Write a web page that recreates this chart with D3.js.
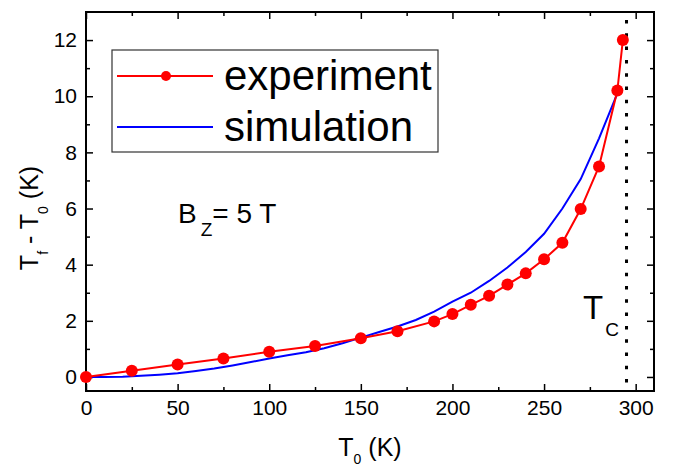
<!DOCTYPE html>
<html>
<head>
<meta charset="utf-8">
<script src="https://cdn.jsdelivr.net/npm/d3@7"></script>
<style>
  body { margin: 0; background: #fff; }
  svg { display: block; font-family: "Liberation Sans", Arial, sans-serif; }
</style>
</head>
<body>
<svg id="chart" width="684" height="468"></svg>
<script>
// experiment: T0 (K) vs Tf - T0 (K)
const expT0 = [0, 25, 50, 75, 100, 125, 150, 170, 190, 200, 210, 220, 230, 240, 250, 260, 270, 280, 290, 293];
const expDT = [0, 0.22, 0.44, 0.66, 0.9, 1.1, 1.38, 1.63, 1.98, 2.24, 2.57, 2.89, 3.29, 3.69, 4.19, 4.78, 5.98, 7.5, 10.2, 12.0];

// simulation curve
const simT0 = [0, 10, 20, 30, 40, 50, 60, 70, 80, 90, 100, 110, 120, 130, 140, 150, 160, 170, 180, 190, 200, 210, 220, 230, 240, 250, 260, 270, 280, 290];
const simDT = [0, 0, 0.01, 0.04, 0.08, 0.13, 0.21, 0.3, 0.41, 0.53, 0.66, 0.77, 0.88, 1.02, 1.2, 1.4, 1.6, 1.8, 2.03, 2.33, 2.68, 3.0, 3.42, 3.9, 4.45, 5.1, 6.0, 7.05, 8.5, 10.1];

const xMajor = [0, 50, 100, 150, 200, 250, 300];
const xMinor = [25, 75, 125, 175, 225, 275];
const yMajor = [0, 2, 4, 6, 8, 10, 12];
const yMinor = [1, 3, 5, 7, 9, 11];
const Tc = 295;

const margin = { left: 86, top: 12, right: 30, bottom: 77 };
const width = 684, height = 468;

const svg = d3.select('#chart');

const x = d3.scaleLinear().domain([0, 310]).range([margin.left, width - margin.right]);
const y = d3.scaleLinear().domain([-0.5, 13]).range([height - margin.bottom, margin.top]);

const x0 = margin.left, x1 = width - margin.right;
const y0 = height - margin.bottom, y1 = margin.top;

// Axes (ticks point inward)
function styleAxis(g) {
    g.select('.domain').remove();
    g.selectAll('line').attr('stroke', '#000').attr('stroke-width', 1.5);
    g.selectAll('text').attr('fill', '#000').attr('font-size', '21px').attr('font-family', '"Liberation Sans", Arial, sans-serif');
}

svg.append('g').attr('transform', `translate(0,${y0})`)
    .call(d3.axisBottom(x).tickValues(xMajor).tickSize(-7).tickPadding(9).tickFormat(d3.format('d')))
    .call(styleAxis);
svg.append('g').attr('transform', `translate(0,${y0})`)
    .call(d3.axisBottom(x).tickValues(xMinor).tickSize(-4).tickFormat(''))
    .call(styleAxis);
svg.append('g').attr('transform', `translate(0,${y1})`)
    .call(d3.axisTop(x).tickValues(xMajor).tickSize(-7).tickFormat(''))
    .call(styleAxis);
svg.append('g').attr('transform', `translate(0,${y1})`)
    .call(d3.axisTop(x).tickValues(xMinor).tickSize(-4).tickFormat(''))
    .call(styleAxis);

svg.append('g').attr('transform', `translate(${x0},0)`)
    .call(d3.axisLeft(y).tickValues(yMajor).tickSize(-7).tickPadding(9).tickFormat(d3.format('d')))
    .call(styleAxis);
svg.append('g').attr('transform', `translate(${x0},0)`)
    .call(d3.axisLeft(y).tickValues(yMinor).tickSize(-4).tickFormat(''))
    .call(styleAxis);
svg.append('g').attr('transform', `translate(${x1},0)`)
    .call(d3.axisRight(y).tickValues(yMajor).tickSize(-7).tickFormat(''))
    .call(styleAxis);
svg.append('g').attr('transform', `translate(${x1},0)`)
    .call(d3.axisRight(y).tickValues(yMinor).tickSize(-4).tickFormat(''))
    .call(styleAxis);

// Frame
svg.append('rect')
    .attr('x', x0).attr('y', y1)
    .attr('width', x1 - x0).attr('height', y0 - y1)
    .attr('fill', 'none').attr('stroke', '#000').attr('stroke-width', 2);

// Tc dotted line
svg.append('line')
    .attr('x1', x(Tc)).attr('x2', x(Tc))
    .attr('y1', 20).attr('y2', y0)
    .attr('stroke', '#000').attr('stroke-width', 3)
    .attr('stroke-dasharray', '3.5,9.8');

const line = d3.line().x(d => x(d[0])).y(d => y(d[1]));

// Simulation
const simData = simT0.map((t, i) => [t, simDT[i]]);
svg.append('path').datum(simData)
    .attr('d', line)
    .attr('fill', 'none').attr('stroke', '#0000ff').attr('stroke-width', 2);

// Experiment
const expData = expT0.map((t, i) => [t, expDT[i]]);
svg.append('path').datum(expData)
    .attr('d', line)
    .attr('fill', 'none').attr('stroke', '#ff0000').attr('stroke-width', 2);
svg.append('g').selectAll('circle')
    .data(expData).enter().append('circle')
    .attr('cx', d => x(d[0])).attr('cy', d => y(d[1]))
    .attr('r', 6).attr('fill', '#ff0000');

// Legend
const legend = svg.append('g');
legend.append('rect')
    .attr('x', 112).attr('y', 50).attr('width', 326).attr('height', 102)
    .attr('fill', '#fff').attr('stroke', '#333').attr('stroke-width', 1.2);
legend.append('line').attr('x1', 117).attr('x2', 213).attr('y1', 76).attr('y2', 76)
    .attr('stroke', '#ff0000').attr('stroke-width', 2);
legend.append('circle').attr('cx', 166).attr('cy', 76).attr('r', 5).attr('fill', '#ff0000');
legend.append('line').attr('x1', 117).attr('x2', 213).attr('y1', 127).attr('y2', 127)
    .attr('stroke', '#0000ff').attr('stroke-width', 2);
legend.append('text').attr('x', 224).attr('y', 90).attr('font-size', '42px').text('experiment');
legend.append('text').attr('x', 224).attr('y', 141).attr('font-size', '42px').text('simulation');

// B_Z = 5 T
const bz = svg.append('text').attr('x', 178).attr('y', 223).attr('font-size', '28px');
bz.append('tspan').text('B');
bz.append('tspan').attr('font-size', '19px').attr('dx', 4).attr('dy', 13).text('Z');
bz.append('tspan').attr('dy', -13).text('= 5 T');

// T_C
const tc = svg.append('text').attr('x', 583).attr('y', 319).attr('font-size', '33px');
tc.append('tspan').text('T');
tc.append('tspan').attr('font-size', '19px').attr('dy', 17).attr('dx', 2).text('C');

// X axis title
const xt = svg.append('text').attr('x', 370).attr('y', 456).attr('font-size', '25px').attr('text-anchor', 'middle');
xt.append('tspan').text('T');
xt.append('tspan').attr('font-size', '14px').attr('dy', 8).text('0');
xt.append('tspan').attr('dy', -8).text(' (K)');

// Y axis title
const yt = svg.append('text')
    .attr('transform', 'translate(38,218) rotate(-90)')
    .attr('font-size', '25px').attr('text-anchor', 'middle');
yt.append('tspan').text('T');
yt.append('tspan').attr('font-size', '14px').attr('dy', 10).text('f');
yt.append('tspan').attr('dy', -10).text(' - T');
yt.append('tspan').attr('font-size', '14px').attr('dy', 10).text('0');
yt.append('tspan').attr('dy', -10).text(' (K)');
</script>
</body>
</html>
